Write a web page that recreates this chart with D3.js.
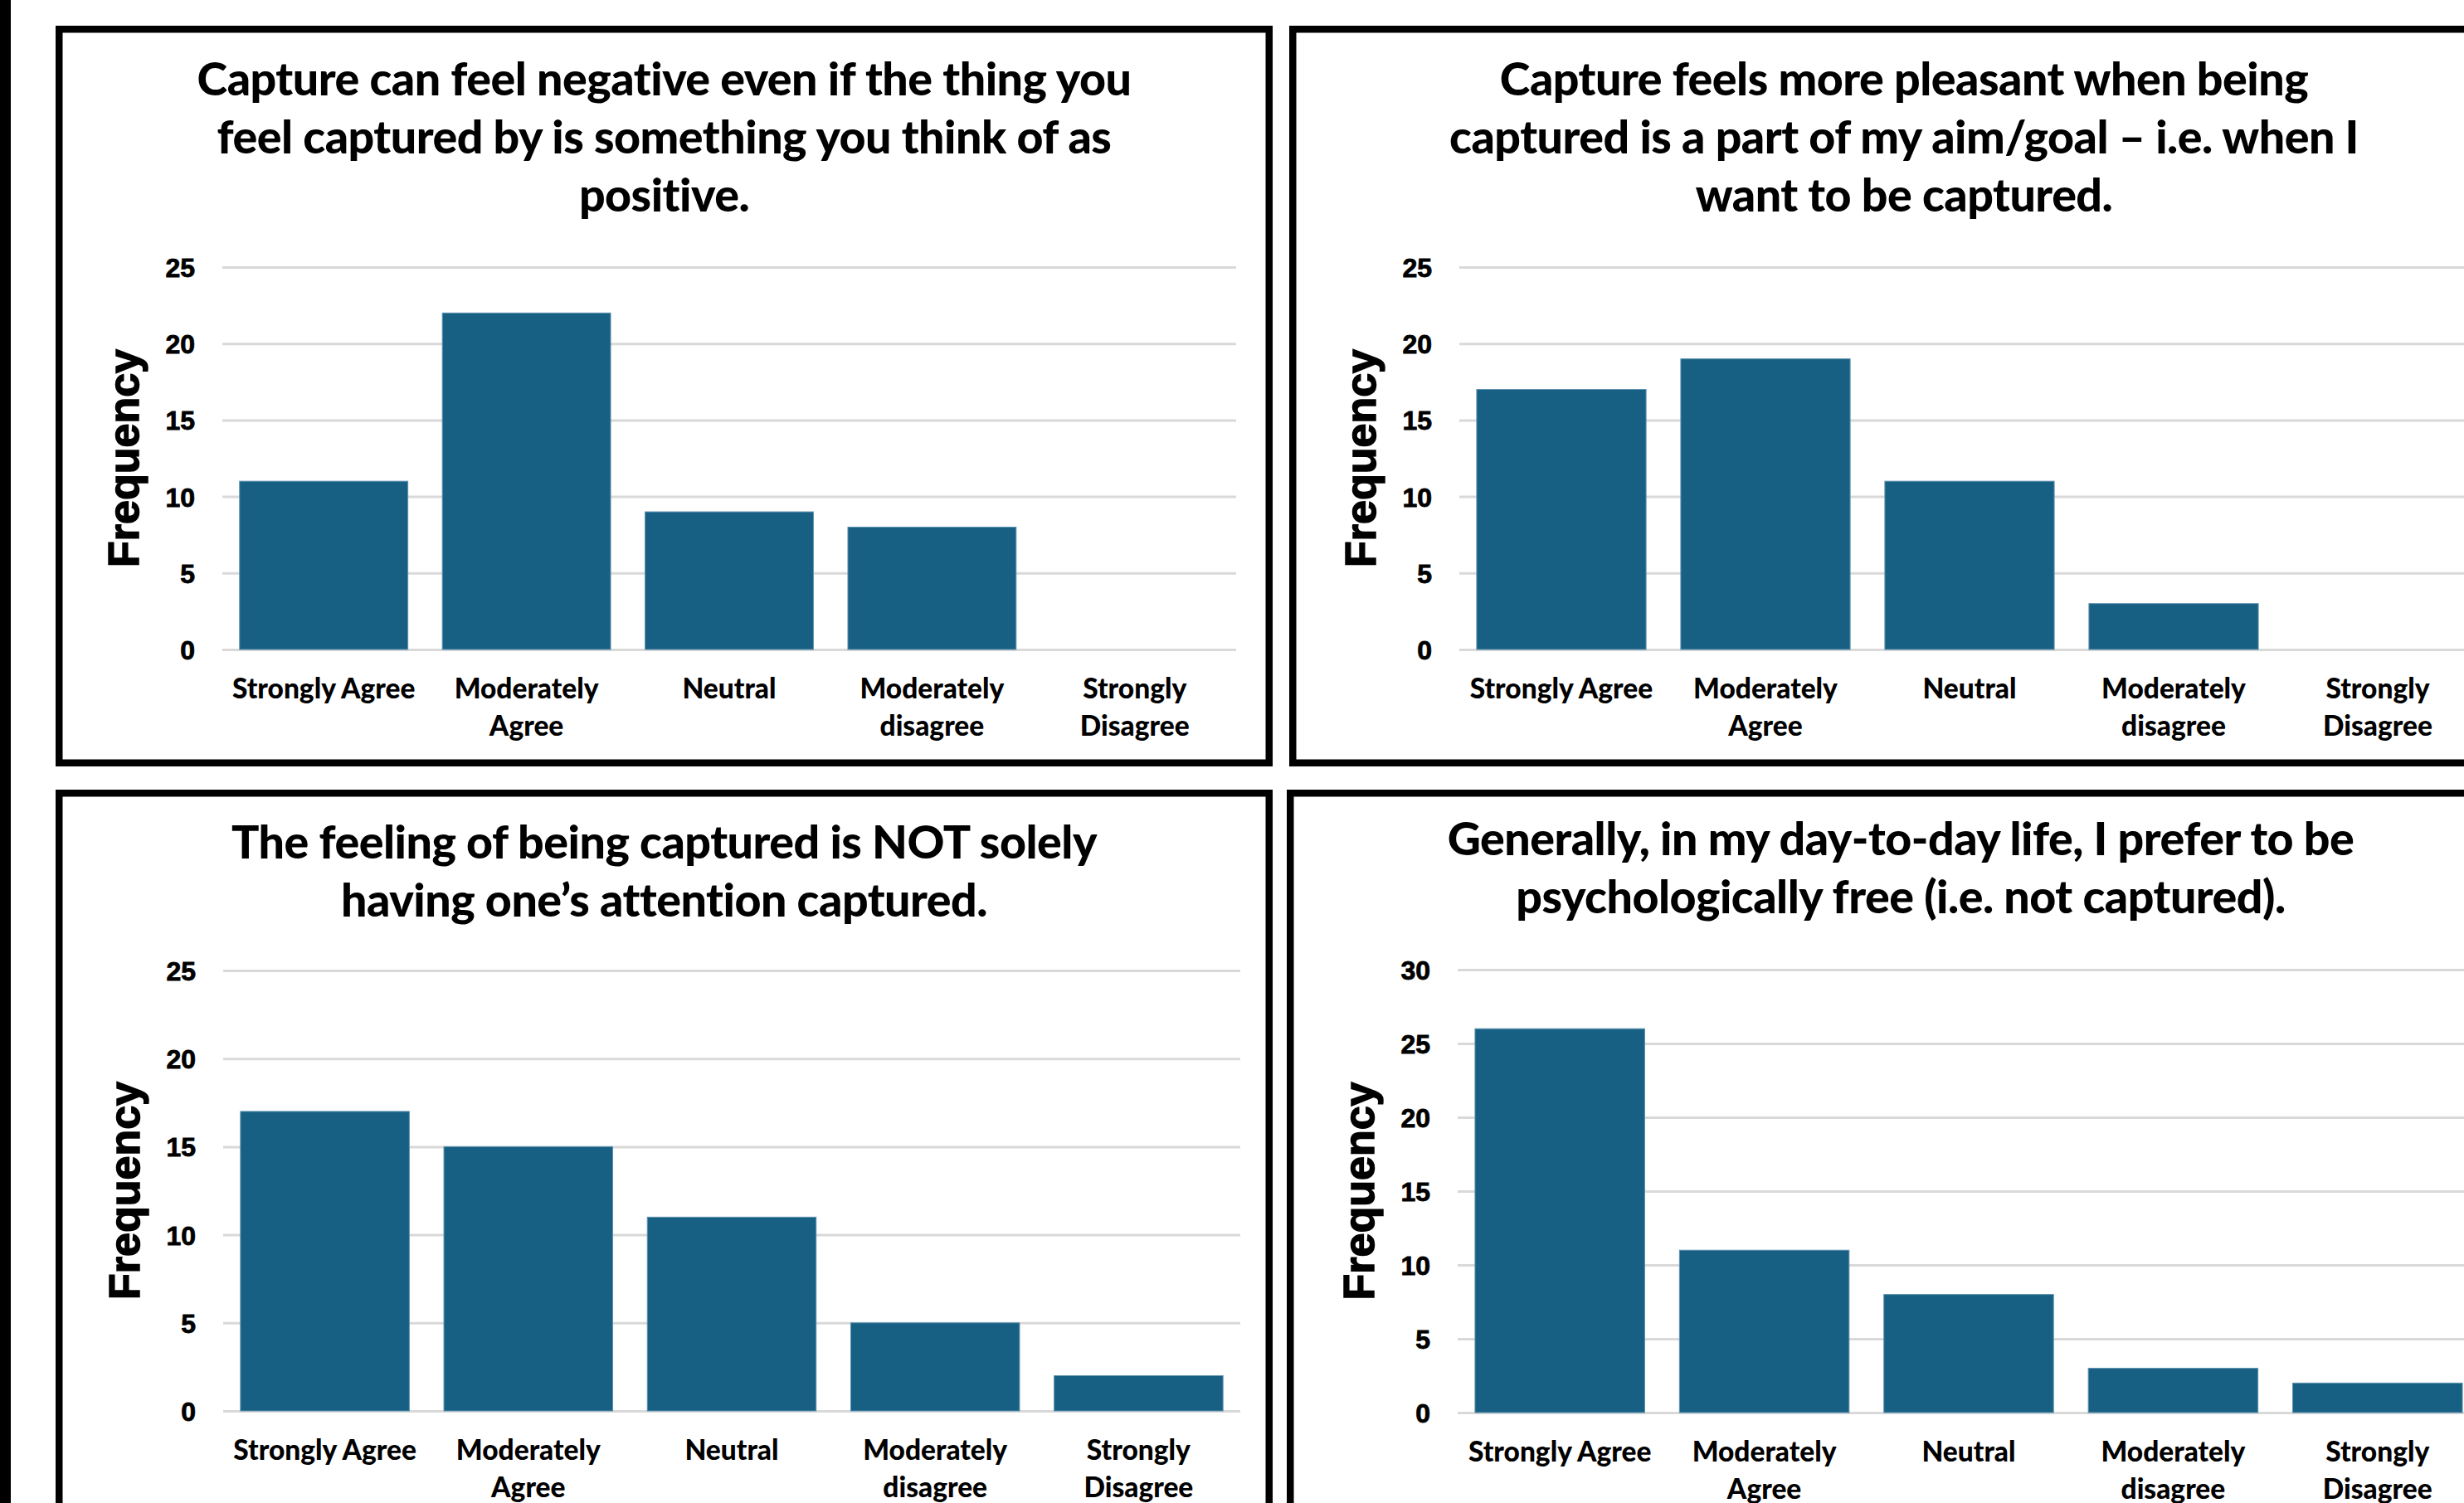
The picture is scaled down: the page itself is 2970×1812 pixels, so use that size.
<!DOCTYPE html>
<html>
<head>
<meta charset="utf-8">
<script src="https://cdn.jsdelivr.net/npm/d3@7"></script>
<style>
  html, body { margin: 0; padding: 0; background: #ffffff; }
  svg { display: block; }
</style>
</head>
<body>
<svg id="chart" width="2970" height="1812"></svg>
<script>
// Response categories shared by all four survey items
const categories = ["Strongly Agree", "Moderately Agree", "Neutral", "Moderately disagree", "Strongly Disagree"];
const categoryLabelLines = [["Strongly Agree"], ["Moderately", "Agree"], ["Neutral"], ["Moderately", "disagree"], ["Strongly", "Disagree"]];

// Frequencies per statement
const negativeEvenIfPositive = [11, 22, 9, 8, 0];
const pleasantWhenGoal = [17, 19, 11, 3, 0];
const notSolelyAttention = [17, 15, 11, 5, 2];
const preferPsychFree = [26, 11, 8, 3, 2];

// Y tick values
const ticksTo25 = [0, 5, 10, 15, 20, 25];
const ticksTo30 = [0, 5, 10, 15, 20, 25, 30];

// Statement titles, one entry per line
const titleNegative = ["Capture can feel negative even if the thing you", "feel captured by is something you think of as", "positive."];
const titlePleasant = ["Capture feels more pleasant when being", "captured is a part of my aim/goal \u2013 i.e. when I", "want to be captured."];
const titleAttention = ["The feeling of being captured is NOT solely", "having one\u2019s attention captured."];
const titleFree = ["Generally, in my day-to-day life, I prefer to be", "psychologically free (i.e. not captured)."];

const yLabel = "Frequency";

const BAR = "#186083";
const GRID = "#d9d9d9";
const TITLE_FONT = "Lato, 'Noto Sans', sans-serif";
const AXIS_FONT = "'Liberation Sans', Arial, sans-serif";

const panels = [
  { title: titleNegative, values: negativeEvenIfPositive, ticks: ticksTo25,
    box: { x: 67, y: 31, w: 1467, h: 893 }, plot: { x: 268, y: 322, w: 1222, h: 461 }, titleY: 115 },
  { title: titlePleasant, values: pleasantWhenGoal, ticks: ticksTo25,
    box: { x: 1554, y: 31, w: 1482, h: 893 }, plot: { x: 1759, y: 322, w: 1230, h: 461 }, titleY: 115 },
  { title: titleAttention, values: notSolelyAttention, ticks: ticksTo25,
    box: { x: 67, y: 952, w: 1467, h: 900 }, plot: { x: 269, y: 1170, w: 1226, h: 531 }, titleY: 1035 },
  { title: titleFree, values: preferPsychFree, ticks: ticksTo30,
    box: { x: 1551, y: 952, w: 1480, h: 900 }, plot: { x: 1757, y: 1169, w: 1232, h: 534 }, titleY: 1031 }
];

const svg = d3.select("#chart");

// black strip along the left edge
svg.append("rect").attr("x", 0).attr("y", 0).attr("width", 13).attr("height", 1812).attr("fill", "#000");

const BORDER = 8.5;

panels.forEach(p => {
  const g = svg.append("g");

  // framed panel
  g.append("rect")
    .attr("x", p.box.x + BORDER / 2).attr("y", p.box.y + BORDER / 2)
    .attr("width", p.box.w - BORDER).attr("height", p.box.h - BORDER)
    .attr("fill", "#fff").attr("stroke", "#000").attr("stroke-width", BORDER);

  // title
  const cx = p.box.x + p.box.w / 2;
  g.append("text")
    .attr("text-anchor", "middle")
    .attr("font-family", TITLE_FONT).attr("font-weight", 900).attr("font-size", 55.5)
    .attr("letter-spacing", -0.5)
    .attr("fill", "#000")
    .selectAll("tspan").data(p.title).join("tspan")
    .attr("x", cx).attr("y", (d, i) => p.titleY + i * 70)
    .text(d => d);

  const x = d3.scaleBand().domain(categories)
    .range([p.plot.x, p.plot.x + p.plot.w])
    .paddingInner(0.17).paddingOuter(0.085);
  const yMax = p.ticks[p.ticks.length - 1];
  const y = d3.scaleLinear().domain([0, yMax]).range([p.plot.y + p.plot.h, p.plot.y]);

  // horizontal gridlines
  const grid = g.append("g")
    .attr("transform", `translate(${p.plot.x},0)`)
    .call(d3.axisLeft(y).tickValues(p.ticks).tickSize(-p.plot.w).tickFormat(""));
  grid.select(".domain").remove();
  grid.selectAll(".tick line").attr("stroke", GRID).attr("stroke-width", 3);

  // y tick labels
  const yAxis = g.append("g")
    .attr("transform", `translate(${p.plot.x - 33},0)`)
    .call(d3.axisLeft(y).tickValues(p.ticks).tickSize(0).tickPadding(0).tickFormat(d3.format("d")));
  yAxis.select(".domain").remove();
  yAxis.selectAll("text")
    .attr("font-family", AXIS_FONT).attr("font-weight", 700).attr("font-size", 32)
    .attr("fill", "#000").attr("stroke", "#000").attr("stroke-width", 0.8)
    .attr("dy", "0.36em");

  // bars
  g.append("g").selectAll("rect").data(p.values).join("rect")
    .attr("x", (d, i) => x(categories[i]))
    .attr("width", x.bandwidth())
    .attr("y", d => y(d))
    .attr("height", d => y(0) - y(d))
    .attr("fill", BAR)
    .attr("stroke", "#5e93b0").attr("stroke-width", d => d > 0 ? 1 : 0);

  // category labels
  const base = y(0);
  categories.forEach((c, i) => {
    g.append("text")
      .attr("text-anchor", "middle")
      .attr("font-family", TITLE_FONT).attr("font-weight", 900).attr("font-size", 33.5)
      .attr("fill", "#000")
      .selectAll("tspan").data(categoryLabelLines[i]).join("tspan")
      .attr("x", x(c) + x.bandwidth() / 2)
      .attr("y", (d, k) => base + 59 + k * 45)
      .text(d => d);
  });

  // y axis title
  const midY = p.plot.y + p.plot.h / 2;
  g.append("text")
    .attr("transform", `translate(${p.plot.x - 101},${midY}) rotate(-90)`)
    .attr("text-anchor", "middle")
    .attr("font-family", AXIS_FONT).attr("font-weight", 700).attr("font-size", 52)
    .attr("fill", "#000").attr("stroke", "#000").attr("stroke-width", 1.5)
    .text(yLabel);
});
</script>
</body>
</html>
